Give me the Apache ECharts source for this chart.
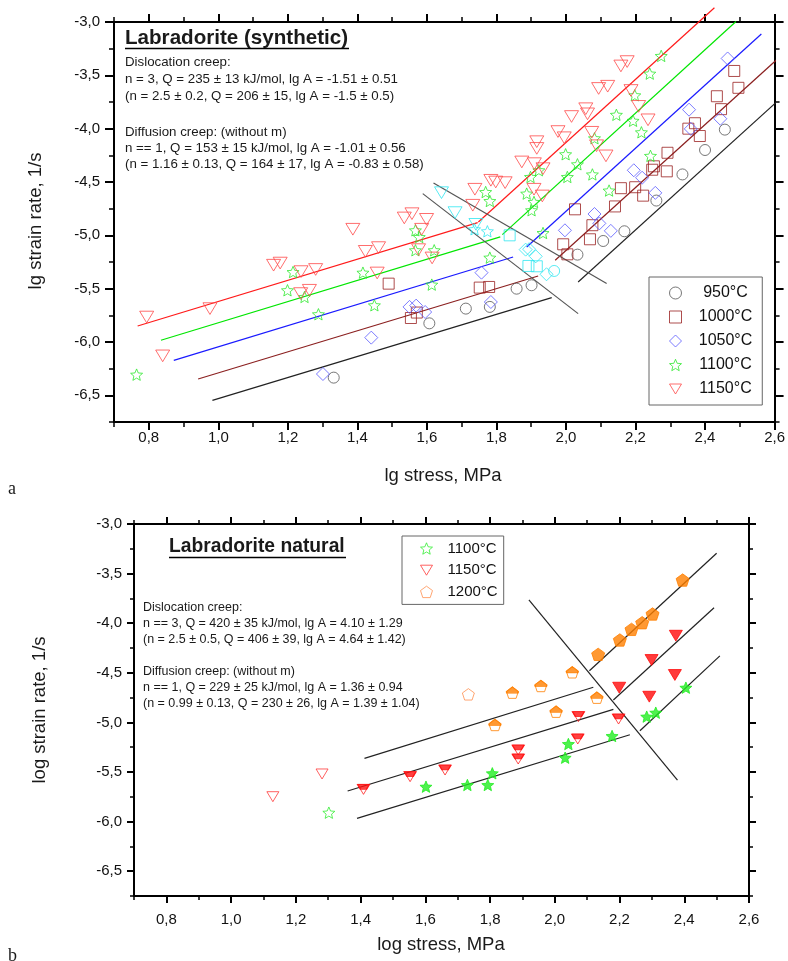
<!DOCTYPE html>
<html><head><meta charset="utf-8">
<script src="https://cdn.jsdelivr.net/npm/echarts@6/dist/echarts.min.js"></script>
<style>html,body{margin:0;padding:0;background:#fff}#c{width:788px;height:961px}</style>
</head><body><div id="c"></div>
<script>
// ---------- tick values ----------
const xMajorTicks = [0.8,1.0,1.2,1.4,1.6,1.8,2.0,2.2,2.4,2.6];
const xMinorTicks = [0.7,0.9,1.1,1.3,1.5,1.7,1.9,2.1,2.3,2.5];
const yMajorTicks = [-6.5,-6.0,-5.5,-5.0,-4.5,-4.0,-3.5,-3.0];
const yMinorTicks = [-6.75,-6.25,-5.75,-5.25,-4.75,-4.25,-3.75,-3.25];

// ---------- panel a: synthetic ----------
const syn950 = [[1.332,-6.334],[1.607,-5.825],[1.712,-5.687],[1.781,-5.671],[1.858,-5.50],[1.901,-5.468],[2.033,-5.181],[2.107,-5.053],[2.168,-4.962],[2.26,-4.674],[2.335,-4.429],[2.40,-4.20],[2.457,-4.009]];
const syn1000 = [[1.49,-5.453],[1.554,-5.775],[1.571,-5.724],[1.752,-5.49],[1.779,-5.484],[1.992,-5.084],[2.004,-5.178],[2.026,-4.756],[2.069,-5.037],[2.076,-4.905],[2.141,-4.729],[2.158,-4.558],[2.199,-4.549],[2.222,-4.628],[2.248,-4.385],[2.253,-4.353],[2.29,-4.40],[2.292,-4.226],[2.352,-4.00],[2.371,-3.949],[2.385,-4.069],[2.434,-3.696],[2.446,-3.817],[2.484,-3.459],[2.496,-3.617]];
const syn1050 = [[1.301,-6.30],[1.44,-5.959],[1.55,-5.671],[1.569,-5.659],[1.595,-5.719],[1.757,-5.35],[1.784,-5.625],[1.997,-4.953],[2.082,-4.80],[2.096,-4.888],[2.129,-4.958],[2.195,-4.39],[2.219,-4.46],[2.257,-4.602],[2.354,-3.822],[2.359,-4.002],[2.444,-3.907],[2.465,-3.342]];
const syn1100 = [[0.765,-6.306],[1.199,-5.515],[1.215,-5.344],[1.248,-5.578],[1.288,-5.74],[1.416,-5.35],[1.449,-5.656],[1.567,-4.953],[1.578,-5.016],[1.567,-5.14],[1.621,-5.14],[1.614,-5.462],[1.769,-4.594],[1.781,-4.678],[1.781,-5.209],[1.887,-4.609],[1.908,-4.687],[1.901,-4.765],[1.898,-4.453],[1.922,-4.39],[1.934,-4.978],[1.999,-4.24],[2.004,-4.453],[2.033,-4.334],[2.076,-4.429],[2.082,-4.09],[2.124,-4.58],[2.145,-3.87],[2.193,-3.926],[2.198,-3.687],[2.217,-4.034],[2.241,-3.484],[2.243,-4.255],[2.274,-3.318]];
const syn1150 = [[0.794,-5.766],[0.84,-6.13],[0.976,-5.687],[1.159,-5.28],[1.178,-5.26],[1.238,-5.34],[1.28,-5.32],[1.237,-5.546],[1.262,-5.515],[1.387,-4.943],[1.423,-5.15],[1.461,-5.115],[1.457,-5.353],[1.535,-4.837],[1.557,-4.797],[1.599,-4.85],[1.585,-4.943],[1.576,-5.134],[1.615,-5.212],[1.732,-4.718],[1.738,-4.568],[1.784,-4.484],[1.798,-4.50],[1.825,-4.506],[1.873,-4.312],[1.909,-4.328],[1.934,-4.375],[1.908,-4.568],[1.932,-4.631],[1.916,-4.122],[1.916,-4.185],[1.977,-4.027],[1.995,-4.085],[2.016,-3.886],[2.057,-3.813],[2.062,-3.861],[2.074,-4.034],[2.088,-4.16],[2.115,-4.255],[2.094,-3.623],[2.12,-3.602],[2.187,-3.642],[2.209,-3.791],[2.236,-3.917],[2.158,-3.412],[2.176,-3.371]];
const synCyanTri = [[1.642,-4.60],[1.681,-4.787],[1.741,-4.897]];
const synCyanStar = [[1.737,-4.943],[1.774,-4.962]];
const synCyanSq = [[1.838,-5.00],[1.892,-5.287],[1.916,-5.29]];
const synCyanDia = [[1.884,-5.134],[1.894,-5.13],[1.913,-5.197],[1.944,-5.365]];
const synCyanCirc = [[1.966,-5.334]];

const fit1150Diff = [[0.768,-5.85],[1.746,-4.881]];
const fit1150Disl = [[1.748,-4.875],[2.427,-2.866]];
const fit1100Diff = [[0.835,-5.984],[1.811,-5.015]];
const fit1100Disl = [[1.817,-4.993],[2.489,-2.995]];
const fit1050Diff = [[0.872,-6.172],[1.848,-5.203]];
const fit1050Disl = [[1.887,-5.109],[2.562,-3.113]];
const fit1000Diff = [[0.942,-6.347],[1.92,-5.381]];
const fit1000Disl = [[1.969,-5.234],[2.64,-3.254]];
const fit950Diff = [[0.983,-6.547],[1.959,-5.584]];
const fit950Disl = [[2.035,-5.437],[2.64,-3.649]];
const synBoundA = [[1.619,-4.509],[2.117,-5.452]];
const synBoundB = [[1.588,-4.609],[2.035,-5.734]];

// ---------- panel b: natural ----------
const nat1100Open = [[1.302,-5.91]];
const nat1100Fill = [[1.602,-5.648],[1.73,-5.631],[1.793,-5.631],[1.807,-5.513],[2.032,-5.356],[2.042,-5.218],[2.177,-5.137],[2.284,-4.942],[2.312,-4.902],[2.405,-4.65]];
const nat1150Open = [[1.129,-5.749],[1.281,-5.52]];
const nat1150Half = [[1.409,-5.675],[1.553,-5.547],[1.661,-5.48],[1.887,-5.278],[1.887,-5.369],[2.071,-5.167],[2.073,-4.942],[2.197,-4.966]];
const nat1150Fill = [[2.199,-4.65],[2.292,-4.741],[2.299,-4.371],[2.371,-4.522],[2.374,-4.126]];
const nat1200Open = [[1.733,-4.717]];
const nat1200Half = [[1.815,-5.026],[1.869,-4.70],[1.957,-4.633],[2.004,-4.892],[2.054,-4.495],[2.13,-4.751]];
const nat1200Fill = [[2.134,-4.314],[2.201,-4.169],[2.237,-4.062],[2.27,-3.995],[2.302,-3.907],[2.395,-3.565]];

const natDiffTop = [[1.412,-5.362],[2.119,-4.646]];
const natDiffMid = [[1.36,-5.692],[2.181,-4.868]];
const natDiffBot = [[1.389,-5.967],[2.232,-5.125]];
const natDislTop = [[2.107,-4.479],[2.50,-3.295]];
const natDislMid = [[2.181,-4.774],[2.492,-3.844]];
const natDislBot = [[2.263,-5.084],[2.51,-4.33]];
const natBoundary = [[1.92,-3.766],[2.379,-5.581]];

const synNames = ['950°C','1000°C','1050°C','1100°C','1150°C'];
const natNames = ['1100°C','1150°C','1200°C'];

// ---------- symbols ----------
const STAR = 'path://M50,0L63.2,31.8L97.55,34.55L71.4,57L79.4,90.45L50,72.5L20.6,90.45L28.6,57L2.45,34.55L36.8,31.8Z';
const TRI = 'path://M0,0L12,0L6,10Z';
const TRI_TOP = 'path://M0,0L12,0L9,5L3,5Z';
const PENT = 'path://M50,0L97.55,34.55L79.4,90.45L20.6,90.45L2.45,34.55Z';
const PENT_TOP = 'path://M50,0L97.55,34.55L94.16,45L5.84,45L2.45,34.55Z';

const FONT = '"Liberation Sans", Arial, sans-serif';
const fmt = v => (Math.round(v * 100) / 100).toFixed(1).replace('.', ',');

function axes(dim, grid, pos, min, max, major, minor, majLen, minLen, showLabel, margin) {
  const base = {type:'value', gridIndex:grid, position:pos, min:min, max:max, splitLine:{show:false}, silent:true};
  const main = Object.assign({}, base, {
    axisLine:{show:true, onZero:false, lineStyle:{color:'#000', width:2}},
    axisTick:{show:true, inside:false, length:majLen, customValues:major, lineStyle:{color:'#000', width:2}},
    axisLabel:{show:showLabel, customValues:major, formatter:fmt, margin:margin, fontSize:15, color:'#111', fontFamily:FONT}
  });
  const mnr = Object.assign({}, base, {
    axisLine:{show:false, onZero:false},
    axisTick:{show:true, inside:false, length:minLen, customValues:minor, lineStyle:{color:'#000', width:1.5}},
    axisLabel:{show:false}
  });
  return [main, mnr];
}

const xAxis = [].concat(
  axes('x',0,'bottom',0.7,2.6,xMajorTicks,xMinorTicks,8,5,true,8),
  axes('x',0,'top',0.7,2.6,xMajorTicks,xMinorTicks,8,5,false,8),
  axes('x',1,'bottom',0.7,2.6,xMajorTicks,xMinorTicks,7,4,true,16),
  axes('x',1,'top',0.7,2.6,xMajorTicks,xMinorTicks,7,4,false,8)
);
const yAxis = [].concat(
  axes('y',0,'left',-6.75,-3.0,yMajorTicks,yMinorTicks,9,5,true,14),
  axes('y',0,'right',-6.75,-3.0,yMajorTicks,yMinorTicks,9,5,false,8),
  axes('y',1,'left',-6.75,-3.0,yMajorTicks,yMinorTicks,7,4,true,12),
  axes('y',1,'right',-6.75,-3.0,yMajorTicks,yMinorTicks,7,4,false,8)
);

function sc(name, data, panel, symbol, size, color, filled, extra) {
  return Object.assign({
    type:'scatter', name:name, data:data,
    xAxisIndex: panel === 0 ? 0 : 4, yAxisIndex: panel === 0 ? 0 : 4,
    symbol:symbol, symbolSize:size, symbolKeepAspect:true, z:5,
    itemStyle: filled ? {color:color, borderColor:color, borderWidth:1}
                      : {color:'rgba(255,255,255,0)', borderColor:color, borderWidth:1},
    emphasis:{disabled:true}
  }, extra || {});
}
function ln(data, panel, color, w) {
  return {type:'line', data:data, xAxisIndex: panel === 0 ? 0 : 4, yAxisIndex: panel === 0 ? 0 : 4,
    symbol:'none', showSymbol:false, clip:false, z:3, silent:true,
    lineStyle:{color:color, width:w || 1.2}};
}

const cBlack = '#555555', cBrown = '#9a2020', cBlue = '#5a5aff', cGreen = '#2ee82e', cRed = '#ff4a4a', cCyan = '#2ee6f0';
const cOrange = '#ff8000';

const series = [
  ln(fit1150Diff,0,'#ff1a1a'), ln(fit1150Disl,0,'#ff1a1a'),
  ln(fit1100Diff,0,'#00e600'), ln(fit1100Disl,0,'#00e600'),
  ln(fit1050Diff,0,'#1a1aff'), ln(fit1050Disl,0,'#1a1aff'),
  ln(fit1000Diff,0,'#8b2020'), ln(fit1000Disl,0,'#8b2020'),
  ln(fit950Diff,0,'#222'), ln(fit950Disl,0,'#222'),
  ln(synBoundA,0,'#555'), ln(synBoundB,0,'#555'),
  sc(synNames[0], syn950, 0, 'circle', 11, cBlack, false),
  sc(synNames[1], syn1000, 0, 'rect', 11, cBrown, false),
  sc(synNames[2], syn1050, 0, 'diamond', 13, cBlue, false),
  sc(synNames[3], syn1100, 0, STAR, 12, cGreen, false),
  sc(synNames[4], syn1150, 0, TRI, 14, cRed, false),
  sc('cyanTri', synCyanTri, 0, TRI, 14, cCyan, false),
  sc('cyanStar', synCyanStar, 0, STAR, 12, cCyan, false),
  sc('cyanSq', synCyanSq, 0, 'rect', 11, cCyan, false),
  sc('cyanDia', synCyanDia, 0, 'diamond', 13, cCyan, false),
  sc('cyanCirc', synCyanCirc, 0, 'circle', 11, cCyan, false),

  ln(natDiffTop,1,'#222'), ln(natDiffMid,1,'#222'), ln(natDiffBot,1,'#222'),
  ln(natDislTop,1,'#222'), ln(natDislMid,1,'#222'), ln(natDislBot,1,'#222'),
  ln(natBoundary,1,'#222'),
  sc('n' + natNames[0], nat1100Open, 1, STAR, 12, '#33ee33', false),
  sc('n1100fill', nat1100Fill, 1, STAR, 12, '#22ee22', true),
  sc('n' + natNames[1], nat1150Open, 1, TRI, 12, '#ff3b3b', false),
  sc('n1150half', nat1150Half, 1, TRI, 12, '#ff2020', false),
  sc('n1150halfTop', nat1150Half, 1, TRI_TOP, [12, 5], '#ff1010', true, {symbolKeepAspect:false, symbolOffset:[0,-2.5]}),
  sc('n1150fill', nat1150Fill, 1, TRI, 13, '#ff0a0a', true),
  sc('n' + natNames[2], nat1200Open, 1, PENT, 12, '#ff9050', false),
  sc('n1200half', nat1200Half, 1, PENT, 12, cOrange, false),
  sc('n1200halfTop', nat1200Half, 1, PENT_TOP, [12, 6.3], cOrange, true, {symbolKeepAspect:false, symbolOffset:[0,-2.55]}),
  sc('n1200fill', nat1200Fill, 1, PENT, 13, cOrange, true)
];

function txt(x, y, s, size, opts) {
  return Object.assign({type:'text', x:x, y:y, silent:true,
    style:{text:s, fill:'#1a1a1a', font: (opts && opts.bold ? 'bold ' : '') + size + 'px ' + ((opts && opts.family) || FONT),
      verticalAlign:'middle', align:(opts && opts.align) || 'left'}}, (opts && opts.el) || {});
}
function uline(x1, x2, y) {
  return {type:'line', silent:true, shape:{x1:x1, y1:y, x2:x2, y2:y}, style:{stroke:'#000', lineWidth:1.5}};
}

const graphic = [
  txt(125, 38, 'Labradorite (synthetic)', 20.6, {bold:true}),
  uline(125, 349, 48.5),
  txt(125, 62, 'Dislocation creep:', 13.3),
  txt(125, 79, 'n = 3, Q = 235 ± 13 kJ/mol, lg A = -1.51 ± 0.51', 13.3),
  txt(125, 96, '(n = 2.5 ± 0.2, Q = 206 ± 15, lg A = -1.5 ± 0.5)', 13.3),
  txt(125, 132, 'Diffusion creep: (without m)', 13.3),
  txt(125, 148, 'n == 1, Q = 153 ± 15 kJ/mol, lg A = -1.01 ± 0.56', 13.3),
  txt(125, 164, '(n = 1.16 ± 0.13, Q = 164 ± 17, lg A = -0.83 ± 0.58)', 13.3),
  txt(36, 221, 'lg strain rate, 1/s', 18.5, {align:'center', el:{rotation:Math.PI/2}}),
  txt(443, 476, 'lg stress, MPa', 18.5, {align:'center'}),
  txt(8, 489, 'a', 18, {family:'"Liberation Serif", serif'}),

  txt(169, 547, 'Labradorite natural', 19.3, {bold:true}),
  uline(169, 346, 557.5),
  txt(143, 608, 'Dislocation creep:', 12.5),
  txt(143, 624, 'n == 3, Q = 420 ± 35 kJ/mol, lg A = 4.10 ± 1.29', 12.5),
  txt(143, 640, '(n = 2.5 ± 0.5, Q = 406 ± 39, lg A = 4.64 ± 1.42)', 12.5),
  txt(143, 672, 'Diffusion creep: (without m)', 12.5),
  txt(143, 688, 'n == 1, Q = 229 ± 25 kJ/mol, lg A = 1.36 ± 0.94', 12.5),
  txt(143, 704, '(n = 0.99 ± 0.13, Q = 230 ± 26, lg A = 1.39 ± 1.04)', 12.5),
  txt(40, 710, 'log strain rate, 1/s', 18.5, {align:'center', el:{rotation:Math.PI/2}}),
  txt(441, 945, 'log stress, MPa', 18.5, {align:'center'}),
  txt(8, 956, 'b', 18, {family:'"Liberation Serif", serif'})
];

const option = {
  animation:false,
  backgroundColor:'#fff',
  grid:[
    {left:114, top:22, width:662, height:400, containLabel:false},
    {left:134, top:524, width:615, height:372, containLabel:false}
  ],
  xAxis:xAxis, yAxis:yAxis,
  legend:[
    {data:synNames, orient:'vertical', left:649, top:277, padding:[8,10,8,20],
     itemWidth:12, itemHeight:12, itemGap:8,
     itemStyle:{borderWidth:1},
     borderColor:'#666', borderWidth:1, backgroundColor:'#fff', selectedMode:false,
     textStyle:{fontSize:16, color:'#111', fontFamily:FONT,
       rich:{a:{width:54, align:'center', fontSize:16, fontFamily:FONT, color:'#111', padding:[0,0,0,12]}}},
     formatter: n => '{a|' + n + '}'},
    {data:natNames.map(n => 'n' + n), orient:'vertical', left:402, top:536, padding:[5,6,5,18],
     itemWidth:12, itemHeight:12, itemGap:6.7,
     itemStyle:{borderWidth:1},
     borderColor:'#666', borderWidth:1, backgroundColor:'#fff', selectedMode:false,
     textStyle:{fontSize:15, color:'#111', fontFamily:FONT,
       rich:{a:{fontSize:15, fontFamily:FONT, color:'#111', padding:[0,0,0,10]}}},
     formatter: n => '{a|' + n.slice(1) + '}'}
  ],
  graphic:graphic,
  series:series
};
const chart = echarts.init(document.getElementById('c'), null, {renderer:'canvas'});
chart.setOption(option);
</script></body></html>
